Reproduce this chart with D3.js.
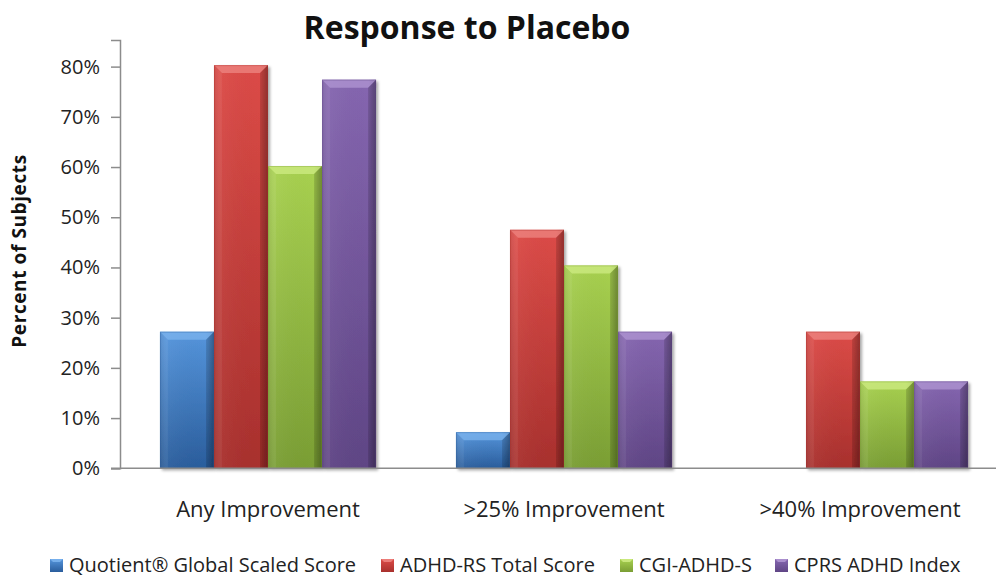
<!DOCTYPE html>
<html><head><meta charset="utf-8">
<script src="https://cdn.jsdelivr.net/npm/d3@7"></script>
<style>
html,body{margin:0;padding:0;background:#fff;}
svg{display:block;}
text{font-family:"Open Sans","Noto Sans",sans-serif;}
</style></head>
<body>
<script>
const categories = ["Any Improvement", ">25% Improvement", ">40% Improvement"];
const seriesNames = ["Quotient\u00AE Global Scaled Score", "ADHD-RS Total Score", "CGI-ADHD-S", "CPRS ADHD Index"];
const quotient = [0.272, 0.072, 0];
const adhdrs   = [0.803, 0.475, 0.272];
const cgi      = [0.602, 0.404, 0.173];
const cprs     = [0.774, 0.272, 0.173];
const yTicks = [0, 0.1, 0.2, 0.3, 0.4, 0.5, 0.6, 0.7, 0.8];
const title = "Response to Placebo";
const yTitle = "Percent of Subjects";

const W = 996, H = 579;
const colors = [
  {mid:"#3f7bc4", light:"#5595dc", dark:"#2a5d9c", top:"#7fb6f0"},
  {mid:"#d0403d", light:"#dc4b47", dark:"#a8302d", top:"#f08a86"},
  {mid:"#98c046", light:"#a8d150", dark:"#7a9e34", top:"#d2ee88"},
  {mid:"#7a5ba3", light:"#8566b0", dark:"#5f4585", top:"#b49ad6"}
];
const values = [quotient, adhdrs, cgi, cprs];

const svg = d3.select("body").append("svg").attr("width", W).attr("height", H);
const defs = svg.append("defs");

colors.forEach((c, i) => {
  const g = defs.append("linearGradient").attr("id", "body" + i)
    .attr("x1", 0).attr("y1", 0).attr("x2", 0).attr("y2", 1);
  g.append("stop").attr("offset", "0%").attr("stop-color", c.light);
  g.append("stop").attr("offset", "100%").attr("stop-color", c.dark);
  const h = defs.append("linearGradient").attr("id", "side" + i)
    .attr("x1", 0).attr("y1", 0).attr("x2", 1).attr("y2", 0);
  h.append("stop").attr("offset", "0%").attr("stop-color", "#000").attr("stop-opacity", 0.08);
  h.append("stop").attr("offset", "12%").attr("stop-color", "#fff").attr("stop-opacity", 0.04);
  h.append("stop").attr("offset", "85%").attr("stop-color", "#000").attr("stop-opacity", 0.0);
  h.append("stop").attr("offset", "100%").attr("stop-color", "#000").attr("stop-opacity", 0.25);
});
const shadow = defs.append("filter").attr("id", "shadow").attr("x", "-10%").attr("y", "-10%").attr("width", "130%").attr("height", "130%");
shadow.append("feGaussianBlur").attr("in", "SourceAlpha").attr("stdDeviation", 1.5).attr("result", "b");
shadow.append("feOffset").attr("in", "b").attr("dx", 2).attr("dy", 2).attr("result", "o");
shadow.append("feComponentTransfer").attr("in", "o").attr("result", "o2")
  .append("feFuncA").attr("type", "linear").attr("slope", 0.35);
const mg = shadow.append("feMerge");
mg.append("feMergeNode").attr("in", "o2");
mg.append("feMergeNode").attr("in", "SourceGraphic");

const plotLeft = 120, plotRight = 1008, plotBottom = 468.3, plotTop = 40;
const x = d3.scaleBand().domain(categories).range([plotLeft, plotRight])
  .paddingInner(0.27).paddingOuter(0.135);
const xs = d3.scaleBand().domain(d3.range(seriesNames.length)).range([0, x.bandwidth()]);
const y = d3.scaleLinear().domain([0, 0.853]).range([plotBottom, plotTop]);

// Title
svg.append("text").attr("x", 467).attr("y", 39).attr("text-anchor", "middle")
  .style("font-weight", "700").style("font-size", "32px").attr("fill", "#111").text(title);

// Y axis
const yAxis = svg.append("g").attr("transform", `translate(${plotLeft},0)`)
  .call(d3.axisLeft(y).tickValues(yTicks).tickFormat(d3.format(".0%")).tickSizeOuter(0).tickSize(9).tickPadding(11));
yAxis.select(".domain").attr("stroke", "#8c8c8c").attr("stroke-width", 1.5);
yAxis.selectAll(".tick line").attr("stroke", "#8c8c8c").attr("stroke-width", 1.5);
yAxis.selectAll(".tick text").attr("fill", "#222").style("font-size", "20px")
  .style("font-family", "'Open Sans','Noto Sans',sans-serif");

svg.append("text").attr("transform", `translate(26,251) rotate(-90)`)
  .attr("text-anchor", "middle").style("font-weight", "700").style("font-size", "19px")
  .style("letter-spacing", "0.6px")
  .attr("fill", "#111").text(yTitle);

// Bars
const groups = svg.append("g").selectAll("g").data(categories).join("g")
  .attr("transform", d => `translate(${x(d)},0)`);

groups.each(function(cat, ci) {
  const g = d3.select(this);
  values.forEach((vals, si) => {
    const v = vals[ci];
    if (!v) return;
    const x0 = xs(si), w = xs.bandwidth(), y0 = y(v), h = y(0) - y(v);
    const bar = g.append("g").attr("filter", "url(#shadow)");
    bar.append("rect").attr("x", x0).attr("y", y0).attr("width", w).attr("height", h)
      .attr("fill", `url(#body${si})`);
    bar.append("rect").attr("x", x0).attr("y", y0).attr("width", w).attr("height", h)
      .attr("fill", `url(#side${si})`);
    const b = Math.min(8, h / 2);
    bar.append("path").attr("d", `M${x0},${y0}L${x0+w},${y0}L${x0+w-b},${y0+b}L${x0+b},${y0+b}Z`)
      .attr("fill", colors[si].top).attr("opacity", 0.7);
    bar.append("path").attr("d", `M${x0},${y0}L${x0+b},${y0+b}L${x0+b},${y0+h}L${x0},${y0+h}Z`)
      .attr("fill", "#fff").attr("opacity", 0.06);
    bar.append("path").attr("d", `M${x0+w},${y0}L${x0+w-b},${y0+b}L${x0+w-b},${y0+h}L${x0+w},${y0+h}Z`)
      .attr("fill", "#000").attr("opacity", 0.12);
    bar.append("rect").attr("x", x0+0.5).attr("y", y0+0.5).attr("width", w-1).attr("height", h-1)
      .attr("fill", "none").attr("stroke", colors[si].dark).attr("stroke-opacity", 0.35);
  });
});

// X axis
const xAxis = svg.append("g").attr("transform", `translate(0,${plotBottom})`)
  .call(d3.axisBottom(x).tickSize(0).tickSizeOuter(0).tickPadding(33));
xAxis.select(".domain").attr("d", `M${plotLeft - 9},0H${plotRight}`)
  .attr("stroke", "#8c8c8c").attr("stroke-width", 1.5);
xAxis.selectAll(".tick text").attr("fill", "#222").style("font-size", "22px")
  .style("font-family", "'Open Sans','Noto Sans',sans-serif");

// Legend
const legendX = [50, 381, 620, 775];
const legend = svg.append("g").attr("transform", "translate(0,565)");
seriesNames.forEach((name, i) => {
  const lg = legend.append("g").attr("transform", `translate(${legendX[i]},0)`);
  lg.append("rect").attr("x", 0).attr("y", -6).attr("width", 13).attr("height", 13)
    .attr("fill", `url(#body${i})`);
  lg.append("path").attr("d", "M0,-6H13L10,-3H3Z").attr("fill", colors[i].top).attr("opacity", 0.8);
  lg.append("text").attr("x", 19).attr("y", 7).style("font-size", "20px").attr("fill", "#222")
    .text(name);
});
</script>
</body></html>
